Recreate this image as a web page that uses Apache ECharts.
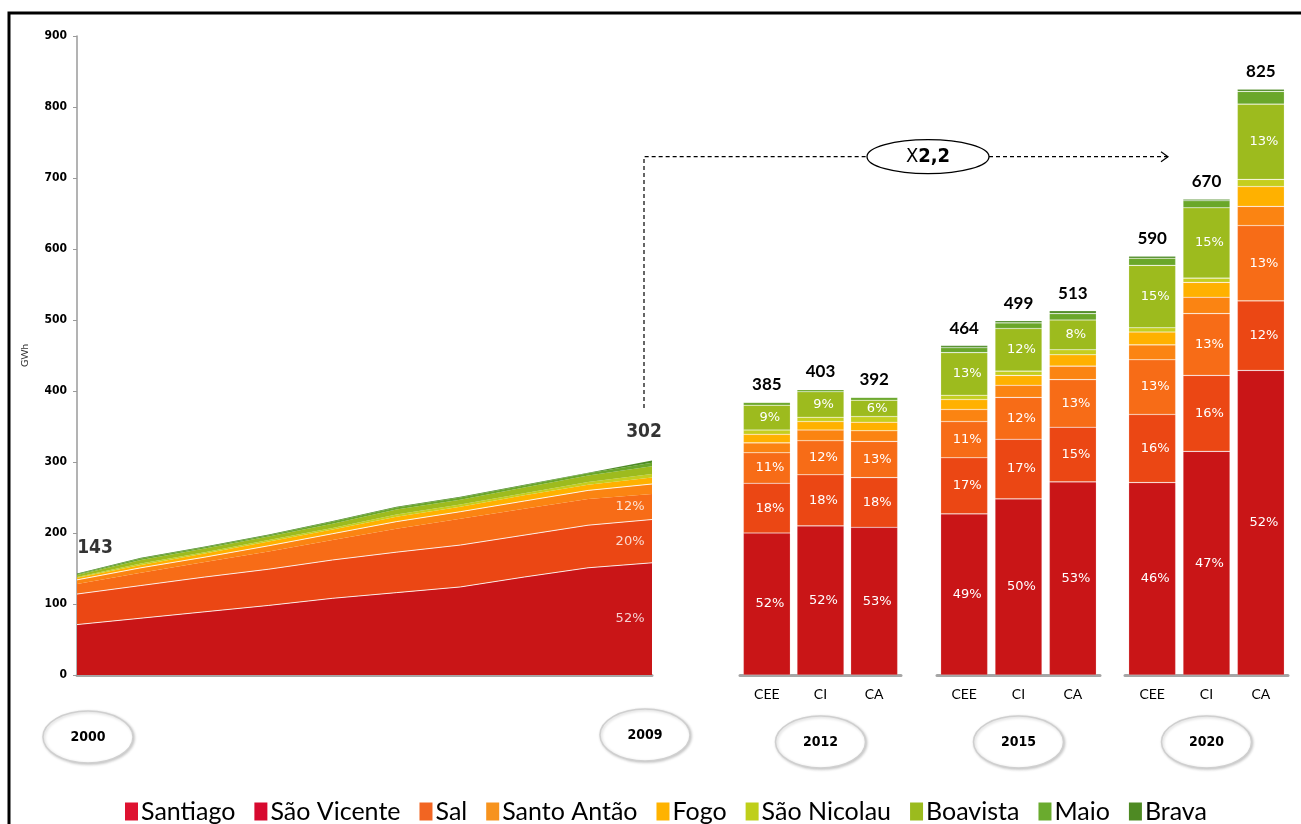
<!DOCTYPE html>
<html>
<head>
<meta charset="utf-8">
<title>Consumo de electricidade por ilha (GWh)</title>
<script src="https://cdn.jsdelivr.net/npm/echarts@6.0.0/dist/echarts.min.js"></script>
<style>
  html, body { margin: 0; padding: 0; background: #fff; }
  #main { width: 1301px; height: 824px; }
</style>
</head>
<body>
<div id="main"></div>
<script>
// ---- Data -------------------------------------------------------------
const years = ['2000', '2001', '2002', '2003', '2004', '2005', '2006', '2007', '2008', '2009'];
const islands = ['Santiago', 'São Vicente', 'Sal', 'Santo Antão', 'Fogo', 'São Nicolau', 'Boavista', 'Maio', 'Brava'];

// Historical consumption per island, GWh (2000–2009)
const histSantiago   = [71, 80, 89, 98, 108, 116, 124, 138, 151, 158];
const histSaoVicente = [43, 46, 49, 51, 54, 57, 59, 59, 60, 61];
const histSal        = [14, 18, 21, 25, 28, 33, 37, 37, 37, 36];
const histSantoAntao = [6, 7, 7, 8, 9, 10, 10, 11, 12, 14];
const histFogo       = [3, 4, 5, 6, 6, 7, 7, 8, 8, 9];
const histSaoNicolau = [1, 2, 2, 2, 2, 3, 3, 3, 4, 5];
const histBoavista   = [3, 5, 5, 5, 6, 7, 7, 8, 9, 11];
const histMaio       = [1, 2, 2, 2, 3, 3, 3, 3, 3, 5];
const histBrava      = [1, 1, 1, 1, 1, 1, 1, 1, 1, 3];

// Scenario projections, GWh: [2012 CEE, CI, CA, 2015 CEE, CI, CA, 2020 CEE, CI, CA]
const scenarioYears = ['2012', '2015', '2020'];
const scenarios = ['CEE', 'CI', 'CA'];
const scenSantiago   = [200, 210, 208, 227, 248, 272, 271, 315, 429];
const scenSaoVicente = [70, 72, 70, 79, 84, 77, 96, 107, 98];
const scenSal        = [43, 48, 51, 51, 59, 67, 77, 87, 106];
const scenSantoAntao = [14, 15, 15, 17, 17, 19, 21, 23, 27];
const scenFogo       = [12, 12, 12, 14, 14, 16, 18, 21, 28];
const scenSaoNicolau = [6, 6, 8, 6, 6, 7, 6, 6, 10];
const scenBoavista   = [35, 36, 23, 60, 60, 42, 88, 99, 106];
const scenMaio       = [4, 3, 4, 7, 8, 9, 10, 10, 18];
const scenBrava      = [1, 1, 1, 3, 3, 4, 3, 2, 3];

const growthLabel = '2,2';

// ---- Styling ------------------------------------------------------------
const fillColors   = ['#c91517', '#eb4714', '#f76c17', '#fb8412', '#ffb100', '#c5ce1e', '#9dbb1e', '#6aa72a', '#4d8b25'];
const legendColors = ['#de1230', '#d7092f', '#f26522', '#f7931e', '#ffb300', '#bfcf1a', '#9bbb1e', '#6aab2e', '#4e8a23'];
const whiteEdge    = [true, true, false, true, false, false, false, false, false];
const pctLabelled  = [true, true, true, false, false, false, true, false, false];

const NARROW = '"Liberation Sans Narrow", "DejaVu Sans Condensed", sans-serif';
const BODY = 'Lato, "Noto Sans", sans-serif';
const PCT_FONT = '"DejaVu Sans", sans-serif';

const histData = [histSantiago, histSaoVicente, histSal, histSantoAntao, histFogo, histSaoNicolau, histBoavista, histMaio, histBrava];
const scenData = [scenSantiago, scenSaoVicente, scenSal, scenSantoAntao, scenFogo, scenSaoNicolau, scenBoavista, scenMaio, scenBrava];

const histTotals = years.map((_, i) => histData.reduce((s, arr) => s + arr[i], 0));
const scenTotals = scenSantiago.map((_, i) => scenData.reduce((s, arr) => s + arr[i], 0));

const GRID_TOP = 36, GRID_H = 639;

const grids = [
  { left: 77,   top: GRID_TOP, width: 575, height: GRID_H },
  { left: 740,  top: GRID_TOP, width: 161, height: GRID_H },
  { left: 937,  top: GRID_TOP, width: 163, height: GRID_H },
  { left: 1125, top: GRID_TOP, width: 163, height: GRID_H }
];

const xAxes = [{
  gridIndex: 0, type: 'category', data: years, boundaryGap: false,
  axisLine: { lineStyle: { color: '#a6a6a6', width: 3 } },
  axisTick: { show: false }, axisLabel: { show: false }
}];
const yAxes = [{
  gridIndex: 0, type: 'value', min: 0, max: 900, interval: 100,
  name: 'GWh', nameLocation: 'middle', nameGap: 47, nameRotate: 90,
  nameTextStyle: { fontSize: 10, color: '#333', fontFamily: BODY },
  axisLine: { show: true, lineStyle: { color: '#9a9a9a', width: 1.5 } },
  axisTick: { show: true, length: 4, lineStyle: { color: '#9a9a9a' } },
  splitLine: { show: false },
  axisLabel: { fontWeight: 'bold', fontSize: 12, fontFamily: NARROW, color: '#000', margin: 10 }
}];
scenarioYears.forEach((yr, g) => {
  xAxes.push({
    gridIndex: g + 1, type: 'category', data: scenarios,
    axisLine: { lineStyle: { color: '#a6a6a6', width: 3 } },
    axisTick: { show: false },
    axisLabel: { fontSize: 14, color: '#000', fontFamily: BODY, margin: 12 }
  });
  yAxes.push({ gridIndex: g + 1, type: 'value', min: 0, max: 900, interval: 100, show: false });
});

const series = [];
islands.forEach((name, k) => {
  // stacked history area
  series.push({
    name, type: 'line', xAxisIndex: 0, yAxisIndex: 0, stack: 'hist',
    data: histData[k], symbol: 'none', smooth: false,
    z: whiteEdge[k] ? 3 : 2,
    itemStyle: { color: fillColors[k] },
    areaStyle: { color: fillColors[k], opacity: 1 },
    lineStyle: whiteEdge[k] ? { color: 'rgba(255,255,255,0.85)', width: 1 } : { width: 0, opacity: 0 },
    emphasis: { disabled: true }
  });
  // stacked scenario bars
  scenarioYears.forEach((yr, g) => {
    const vals = scenData[k].slice(g * 3, g * 3 + 3);
    const tots = scenTotals.slice(g * 3, g * 3 + 3);
    let label = { show: false };
    if (pctLabelled[k]) {
      label = {
        show: true, position: 'inside', offset: [3, 0], color: '#fff', fontSize: 13, fontFamily: PCT_FONT,
        formatter: p => Math.round(p.value / tots[p.dataIndex] * 100) + '%'
      };
    } else if (k === islands.length - 1) {
      label = {
        show: true, position: 'top', distance: 9, color: '#000', fontSize: 17, fontWeight: 'bold', fontFamily: BODY,
        formatter: p => String(tots[p.dataIndex])
      };
    }
    series.push({
      name, type: 'bar', xAxisIndex: g + 1, yAxisIndex: g + 1, stack: 's' + yr,
      barWidth: 47, data: vals,
      itemStyle: { color: fillColors[k], borderColor: 'rgba(255,255,255,0.3)', borderWidth: 0.6 },
      label, emphasis: { disabled: true }
    });
  });
});

// Totals above the history area (first and last year)
const last = years.length - 1;
series.push({
  type: 'scatter', xAxisIndex: 0, yAxisIndex: 0, symbolSize: 1, silent: true,
  itemStyle: { color: 'transparent' }, z: 5,
  data: [
    { value: [0, histTotals[0]], label: { offset: [18, -10] } },
    { value: [last, histTotals[last]], label: { offset: [-8, -14] } }
  ],
  label: {
    show: true, position: 'top', distance: 5, color: '#000', fontSize: 19, fontWeight: 'bold', fontFamily: NARROW,
    formatter: p => String(p.value[1])
  }
});

// Share labels at the end of the history area
const shareIdx = [0, 1, 2];
series.push({
  type: 'scatter', xAxisIndex: 0, yAxisIndex: 0, symbolSize: 1, silent: true,
  itemStyle: { color: 'transparent' }, z: 5,
  data: shareIdx.map(k => {
    let below = 0;
    for (let j = 0; j < k; j++) below += histData[j][last];
    return { value: [last, below + histData[k][last] / 2], pct: Math.round(histData[k][last] / histTotals[last] * 100) };
  }),
  label: {
    show: true, position: 'left', distance: 7, color: '#fff', fontSize: 13, fontFamily: PCT_FONT,
    formatter: p => p.data.pct + '%'
  }
});

const chart = echarts.init(document.getElementById('main'));
chart.setOption({
  backgroundColor: '#fff',
  animation: false,
  grid: grids,
  xAxis: xAxes,
  yAxis: yAxes,
  legend: {
    left: 120, top: 794,
    icon: 'rect', itemWidth: 13, itemHeight: 18, itemGap: 19,
    textStyle: { fontSize: 25, color: '#000', fontFamily: BODY, padding: [0, 0, 0, -2] },
    data: islands.map((n, k) => ({ name: n, itemStyle: { color: legendColors[k] } })),
    selectedMode: false
  },
  series
});

// ---- Annotations ----------------------------------------------------------
const px = (gi, x, y) => chart.convertToPixel({ gridIndex: gi }, [x, y]);
const baseY = 740;

function yearBadge(cx, cy, text) {
  return {
    type: 'group', x: cx, y: cy, silent: true,
    children: [
      { type: 'ellipse', shape: { cx: 0, cy: 0, rx: 45, ry: 26 },
        style: { fill: '#fff', stroke: '#cfcfcf', lineWidth: 1.5, shadowBlur: 3, shadowColor: 'rgba(0,0,0,0.2)', shadowOffsetX: 1, shadowOffsetY: 1 } },
      { type: 'text', x: 0, y: 0,
        style: { text, align: 'center', verticalAlign: 'middle', font: 'bold 14px ' + NARROW, fill: '#000' } }
    ]
  };
}

const p2000 = px(0, 0, 0);
const p2009 = px(0, last, 0);
const badges = [
  yearBadge(p2000[0] + 11, baseY - 3, years[0]),
  yearBadge(p2009[0] - 7, baseY - 5, years[last])
];
scenarioYears.forEach((yr, g) => {
  const c = px(g + 1, 1, 0);
  badges.push(yearBadge(c[0], baseY + 2, yr));
});

// Growth connector from 2009 to the 2020 projections
const arrowY = px(0, 0, 730)[1];
const startY = px(0, 0, 376)[1];
const sx = p2009[0] - 8;
const ovalCx = 928, ovalRx = 61, ovalRy = 17;
const tipX = 1168;

chart.setOption({
  graphic: [
    ...badges,
    { type: 'polyline', silent: true, shape: { points: [[sx, startY], [sx, arrowY], [ovalCx - ovalRx, arrowY]] },
      style: { stroke: '#000', lineWidth: 1.2, lineDash: [4, 3], fill: null } },
    { type: 'line', silent: true, shape: { x1: ovalCx + ovalRx, y1: arrowY, x2: tipX, y2: arrowY },
      style: { stroke: '#000', lineWidth: 1.2, lineDash: [4, 3] } },
    { type: 'polyline', silent: true, shape: { points: [[tipX - 7, arrowY - 5], [tipX, arrowY], [tipX - 7, arrowY + 5]] },
      style: { stroke: '#000', lineWidth: 1.2, fill: null } },
    { type: 'ellipse', silent: true, shape: { cx: ovalCx, cy: arrowY, rx: ovalRx, ry: ovalRy },
      style: { fill: '#fff', stroke: '#000', lineWidth: 1.3 } },
    { type: 'text', silent: true, x: ovalCx, y: arrowY,
      style: { text: '{a|X}{b|' + growthLabel + '}', align: 'center', verticalAlign: 'middle',
        rich: { a: { font: '20px ' + NARROW, fill: '#000' }, b: { font: 'bold 20px ' + NARROW, fill: '#000' } } } },
    { type: 'rect', silent: true, z: 100, shape: { x: 9, y: 13, width: 1320, height: 840 },
      style: { fill: null, stroke: '#000', lineWidth: 3 } }
  ]
});
</script>
</body>
</html>
